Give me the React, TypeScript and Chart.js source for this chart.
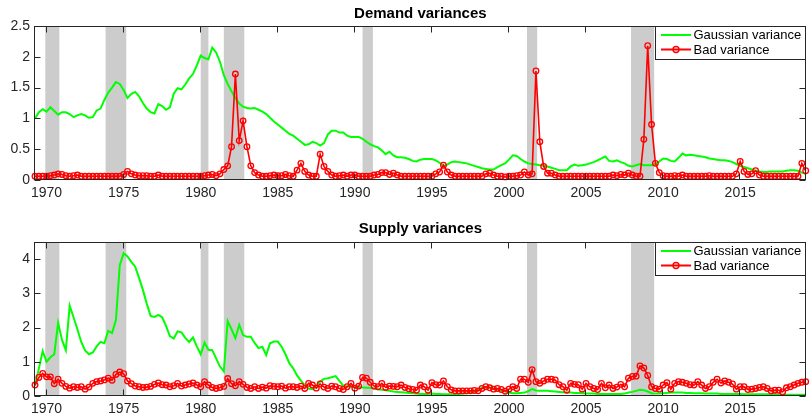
import React, { useEffect, useRef } from "react";
import { Chart, registerables } from "chart.js";

Chart.register(...registerables);

// Quarterly observations, first one is 1969Q2 (1969.25), last one 2019Q2 (2019.25)
const startYear = 1969.25;
const endYear = 2019.25;

const demandGaussian = [
  1.00, 1.10, 1.15, 1.11, 1.18, 1.12, 1.06, 1.10, 1.10, 1.07,
  1.02, 1.05, 1.07, 1.05, 1.01, 1.02, 1.13, 1.16, 1.30, 1.42,
  1.50, 1.59, 1.56, 1.46, 1.33, 1.40, 1.43, 1.36, 1.25, 1.16,
  1.10, 1.08, 1.23, 1.20, 1.14, 1.18, 1.40, 1.49, 1.47, 1.55,
  1.65, 1.72, 1.86, 2.02, 1.98, 1.96, 2.15, 2.07, 1.92, 1.70,
  1.56, 1.44, 1.33, 1.24, 1.19, 1.17, 1.16, 1.17, 1.14, 1.11,
  1.07, 1.01, 0.95, 0.90, 0.85, 0.80, 0.75, 0.72, 0.67, 0.62,
  0.57, 0.58, 0.62, 0.60, 0.56, 0.60, 0.74, 0.80, 0.80, 0.77,
  0.77, 0.72, 0.70, 0.70, 0.70, 0.67, 0.62, 0.58, 0.55, 0.53,
  0.48, 0.42, 0.46, 0.40, 0.37, 0.37, 0.36, 0.34, 0.31, 0.30,
  0.33, 0.34, 0.34, 0.34, 0.32, 0.28, 0.23, 0.25, 0.29, 0.30,
  0.29, 0.28, 0.27, 0.25, 0.23, 0.21, 0.19, 0.18, 0.17, 0.17,
  0.21, 0.24, 0.27, 0.33, 0.40, 0.39, 0.34, 0.30, 0.27, 0.26,
  0.25, 0.24, 0.23, 0.22, 0.20, 0.18, 0.16, 0.16, 0.16, 0.22,
  0.25, 0.23, 0.24, 0.25, 0.27, 0.29, 0.32, 0.35, 0.38, 0.31,
  0.30, 0.32, 0.29, 0.27, 0.23, 0.22, 0.24, 0.26, 0.24, 0.24,
  0.24, 0.26, 0.30, 0.35, 0.34, 0.31, 0.30, 0.36, 0.43, 0.40,
  0.41, 0.40, 0.39, 0.38, 0.37, 0.35, 0.34, 0.33, 0.32, 0.32,
  0.31, 0.29, 0.26, 0.23, 0.21, 0.19, 0.17, 0.15, 0.14, 0.13,
  0.13, 0.14, 0.14, 0.14, 0.14, 0.15, 0.16, 0.16, 0.15, 0.12,
  0.10,
];

const demandBad = [
  0.06, 0.06, 0.06, 0.06, 0.07, 0.08, 0.10, 0.09, 0.07, 0.06,
  0.07, 0.08, 0.06, 0.06, 0.06, 0.06, 0.06, 0.06, 0.06, 0.06,
  0.06, 0.06, 0.06, 0.09, 0.14, 0.10, 0.08, 0.07, 0.07, 0.07,
  0.06, 0.06, 0.08, 0.06, 0.06, 0.06, 0.06, 0.06, 0.06, 0.06,
  0.06, 0.06, 0.06, 0.06, 0.07, 0.08, 0.09, 0.07, 0.10, 0.17,
  0.23, 0.54, 1.72, 0.64, 0.96, 0.54, 0.23, 0.12, 0.08, 0.06,
  0.06, 0.07, 0.08, 0.07, 0.07, 0.09, 0.07, 0.06, 0.16, 0.27,
  0.14, 0.08, 0.06, 0.06, 0.42, 0.22, 0.14, 0.08, 0.06, 0.07,
  0.08, 0.06, 0.08, 0.08, 0.06, 0.06, 0.06, 0.06, 0.08, 0.09,
  0.12, 0.12, 0.09, 0.11, 0.08, 0.06, 0.06, 0.06, 0.06, 0.06,
  0.06, 0.06, 0.06, 0.06, 0.10, 0.13, 0.24, 0.13, 0.08, 0.06,
  0.06, 0.06, 0.06, 0.06, 0.06, 0.06, 0.06, 0.10, 0.11, 0.08,
  0.06, 0.06, 0.05, 0.06, 0.06, 0.07, 0.08, 0.13, 0.08, 0.10,
  1.77, 0.62, 0.22, 0.11, 0.11, 0.08, 0.06, 0.06, 0.06, 0.06,
  0.06, 0.06, 0.06, 0.06, 0.06, 0.06, 0.06, 0.06, 0.06, 0.06,
  0.08, 0.07, 0.09, 0.08, 0.11, 0.08, 0.06, 0.06, 0.66, 2.18,
  0.90, 0.27, 0.12, 0.07, 0.06, 0.06, 0.07, 0.06, 0.08, 0.06,
  0.06, 0.06, 0.06, 0.06, 0.06, 0.07, 0.06, 0.06, 0.06, 0.06,
  0.06, 0.06, 0.10, 0.30, 0.14, 0.09, 0.10, 0.15, 0.08, 0.06,
  0.06, 0.06, 0.06, 0.06, 0.06, 0.06, 0.06, 0.06, 0.06, 0.27,
  0.15,
];

const supplyGaussian = [
  0.30, 0.80, 1.31, 1.00, 1.13, 1.22, 2.14, 1.64, 1.34, 2.64,
  2.30, 1.95, 1.58, 1.33, 1.22, 1.27, 1.45, 1.58, 1.54, 1.90,
  1.84, 2.22, 3.82, 4.17, 4.08, 3.92, 3.78, 3.45, 3.10, 2.70,
  2.34, 2.31, 2.37, 2.30, 2.05, 1.75, 1.68, 1.89, 1.86, 1.70,
  1.58, 1.71, 1.45, 1.22, 1.56, 1.35, 1.34, 1.10, 0.86, 0.72,
  2.19, 1.95, 1.69, 2.08, 1.78, 1.73, 1.73, 1.55, 1.40, 1.44,
  1.20, 1.54, 1.59, 1.59, 1.44, 1.22, 0.96, 0.81, 0.60, 0.45,
  0.32, 0.22, 0.20, 0.30, 0.42, 0.50, 0.52, 0.55, 0.58, 0.44,
  0.30, 0.28, 0.27, 0.25, 0.26, 0.25, 0.24, 0.24, 0.22, 0.20,
  0.18, 0.17, 0.15, 0.13, 0.12, 0.11, 0.10, 0.09, 0.08, 0.07,
  0.06, 0.06, 0.06, 0.07, 0.06, 0.06, 0.05, 0.05, 0.05, 0.06,
  0.06, 0.07, 0.08, 0.10, 0.12, 0.18, 0.24, 0.27, 0.25, 0.22,
  0.20, 0.16, 0.13, 0.10, 0.08, 0.08, 0.09, 0.10, 0.14, 0.20,
  0.16, 0.15, 0.15, 0.15, 0.14, 0.13, 0.12, 0.11, 0.10, 0.10,
  0.09, 0.09, 0.08, 0.07, 0.07, 0.07, 0.06, 0.06, 0.06, 0.06,
  0.06, 0.06, 0.06, 0.07, 0.10, 0.12, 0.15, 0.18, 0.17, 0.13,
  0.08, 0.07, 0.07, 0.08, 0.09, 0.10, 0.10, 0.10, 0.10, 0.09,
  0.09, 0.08, 0.08, 0.08, 0.07, 0.07, 0.07, 0.07, 0.06, 0.06,
  0.06, 0.06, 0.06, 0.06, 0.05, 0.05, 0.05, 0.05, 0.05, 0.05,
  0.05, 0.05, 0.05, 0.04, 0.04, 0.04, 0.04, 0.04, 0.04, 0.04,
  0.04,
];

const supplyBad = [
  0.32, 0.54, 0.66, 0.56, 0.56, 0.36, 0.49, 0.37, 0.28, 0.23,
  0.27, 0.25, 0.27, 0.20, 0.26, 0.37, 0.42, 0.44, 0.47, 0.52,
  0.46, 0.63, 0.70, 0.65, 0.44, 0.36, 0.29, 0.27, 0.25, 0.26,
  0.28, 0.34, 0.38, 0.33, 0.32, 0.27, 0.30, 0.37, 0.29, 0.32,
  0.35, 0.38, 0.32, 0.27, 0.42, 0.32, 0.25, 0.22, 0.25, 0.28,
  0.51, 0.36, 0.30, 0.42, 0.34, 0.25, 0.22, 0.27, 0.22, 0.26,
  0.23, 0.30, 0.28, 0.27, 0.29, 0.23, 0.27, 0.27, 0.25, 0.29,
  0.22, 0.37, 0.32, 0.23, 0.35, 0.26, 0.22, 0.29, 0.27, 0.22,
  0.19, 0.27, 0.37, 0.23, 0.29, 0.54, 0.52, 0.40, 0.29, 0.27,
  0.37, 0.25, 0.29, 0.28, 0.27, 0.32, 0.25, 0.21, 0.19, 0.17,
  0.32, 0.27, 0.17, 0.39, 0.33, 0.32, 0.44, 0.27, 0.18, 0.15,
  0.15, 0.15, 0.15, 0.15, 0.16, 0.15, 0.22, 0.27, 0.24, 0.20,
  0.22, 0.19, 0.14, 0.20, 0.27, 0.22, 0.49, 0.49, 0.40, 0.77,
  0.42, 0.37, 0.44, 0.49, 0.49, 0.47, 0.33, 0.27, 0.17, 0.37,
  0.34, 0.33, 0.20, 0.37, 0.27, 0.22, 0.19, 0.37, 0.24, 0.32,
  0.22, 0.26, 0.34, 0.27, 0.52, 0.57, 0.58, 0.88, 0.82, 0.60,
  0.27, 0.22, 0.20, 0.32, 0.39, 0.20, 0.37, 0.42, 0.40, 0.37,
  0.33, 0.32, 0.42, 0.32, 0.22, 0.27, 0.40, 0.49, 0.38, 0.44,
  0.40, 0.35, 0.20, 0.27, 0.27, 0.19, 0.20, 0.22, 0.25, 0.27,
  0.22, 0.15, 0.17, 0.17, 0.12, 0.24, 0.27, 0.32, 0.37, 0.40,
  0.42,
];

// NBER recession periods (fractional years)
const recessionStarts = [1969.92, 1973.83, 1980.0, 1981.5, 1990.5, 2001.17, 2007.92];
const recessionEnds = [1970.83, 1975.17, 1980.5, 1982.83, 1991.17, 2001.83, 2009.42];

const xTickValues = [1970, 1975, 1980, 1985, 1990, 1995, 2000, 2005, 2010, 2015];
const demandYTicks = [0, 0.5, 1, 1.5, 2, 2.5];
const supplyYTicks = [0, 1, 2, 3, 4];
const seriesNames = ["Gaussian variance", "Bad variance"];
const panelTitles = ["Demand variances", "Supply variances"];

const FONT = "'Liberation Sans', Arial, Helvetica, sans-serif";
const GREEN = "#00ff00";
const RED = "#ff0000";
const AXIS = "#262626";
const SHADE = "#cccccc";

const quarterYears = demandGaussian.map((_, i) => startYear + i * 0.25);

function panelPlugin(title: string, titleY: number, yTicks: number[]) {
  return {
    id: "panelDecor",
    beforeDatasetsDraw(chart: any) {
      const { ctx, chartArea: a, scales } = chart;
      const x = scales.x;
      ctx.save();
      ctx.fillStyle = SHADE;
      for (let k = 0; k < recessionStarts.length; k++) {
        const x0 = x.getPixelForValue(recessionStarts[k]);
        const x1 = x.getPixelForValue(recessionEnds[k]);
        ctx.fillRect(x0, a.top, x1 - x0, a.bottom - a.top);
      }
      ctx.restore();
    },
    afterDatasetsDraw(chart: any) {
      const { ctx, chartArea: a, scales } = chart;
      const x = scales.x;
      const y = scales.y;
      ctx.save();
      // frame
      ctx.strokeStyle = AXIS;
      ctx.lineWidth = 1;
      const L = Math.round(a.left) - 0.5;
      const R = Math.round(a.right) - 0.5;
      const T = Math.round(a.top) + 0.5;
      const B = Math.round(a.bottom) - 0.5;
      ctx.strokeRect(L, T, R - L, B - T);
      // ticks (inside)
      const tl = 6;
      ctx.beginPath();
      for (const v of xTickValues) {
        const px = Math.round(x.getPixelForValue(v)) - 0.5;
        ctx.moveTo(px, B);
        ctx.lineTo(px, B - tl);
        ctx.moveTo(px, T);
        ctx.lineTo(px, T + tl);
      }
      for (const v of yTicks) {
        const py = Math.round(y.getPixelForValue(v)) + 0.5;
        ctx.moveTo(L, py);
        ctx.lineTo(L + tl, py);
        ctx.moveTo(R, py);
        ctx.lineTo(R - tl, py);
      }
      ctx.stroke();

      // legend
      const lw = 150;
      const lh = 33;
      const lx = Math.round(a.right) - 1 - lw;
      const ly = Math.round(a.top);
      ctx.fillStyle = "#ffffff";
      ctx.fillRect(lx, ly, lw, lh);
      ctx.strokeStyle = AXIS;
      ctx.lineWidth = 1;
      ctx.strokeRect(lx + 0.5, ly + 0.5, lw, lh);
      const r1 = ly + 9;
      const r2 = ly + 23.5;
      ctx.lineWidth = 2;
      ctx.strokeStyle = GREEN;
      ctx.beginPath();
      ctx.moveTo(lx + 6, r1);
      ctx.lineTo(lx + 36, r1);
      ctx.stroke();
      ctx.strokeStyle = RED;
      ctx.beginPath();
      ctx.moveTo(lx + 6, r2);
      ctx.lineTo(lx + 36, r2);
      ctx.stroke();
      ctx.lineWidth = 1.4;
      ctx.beginPath();
      ctx.arc(lx + 21, r2, 3, 0, Math.PI * 2);
      ctx.stroke();
      ctx.fillStyle = "#000000";
      ctx.font = `13px ${FONT}`;
      ctx.textAlign = "left";
      ctx.textBaseline = "middle";
      ctx.fillText(seriesNames[0], lx + 38.5, r1 + 0.5);
      ctx.fillText(seriesNames[1], lx + 38.5, r2 + 0.5);

      // title
      ctx.font = `bold 15px ${FONT}`;
      ctx.textAlign = "center";
      ctx.fillText(title, (a.left + a.right) / 2, titleY);
      ctx.restore();
    },
  };
}

function makeConfig(
  gauss: number[],
  bad: number[],
  yMax: number,
  yTicks: number[],
  padTop: number,
  xAxisH: number,
  title: string,
  titleY: number
): any {
  return {
    type: "line",
    data: {
      datasets: [
        {
          label: seriesNames[1],
          data: quarterYears.map((q, i) => ({ x: q, y: bad[i] })),
          borderColor: RED,
          borderWidth: 1.6,
          pointRadius: 2.8,
          pointBorderWidth: 1.3,
          pointBorderColor: RED,
          pointBackgroundColor: "rgba(255,255,255,0)",
          tension: 0,
          clip: false,
        },
        {
          label: seriesNames[0],
          data: quarterYears.map((q, i) => ({ x: q, y: gauss[i] })),
          borderColor: GREEN,
          borderWidth: 2,
          pointRadius: 0,
          tension: 0,
          clip: false,
        },
      ],
    },
    options: {
      animation: false,
      responsive: false,
      maintainAspectRatio: false,
      events: [],
      layout: { padding: { top: padTop, right: 1, left: 0, bottom: 0 } },
      plugins: {
        legend: { display: false },
        tooltip: { enabled: false },
        title: { display: false },
      },
      scales: {
        x: {
          type: "linear",
          min: startYear,
          max: endYear,
          grid: { display: false, drawTicks: false },
          border: { display: false },
          afterBuildTicks: (s: any) => {
            s.ticks = xTickValues.map((v) => ({ value: v }));
          },
          afterFit: (s: any) => {
            s.height = xAxisH;
          },
          ticks: {
            autoSkip: false,
            maxRotation: 0,
            padding: 5,
            color: AXIS,
            font: { family: FONT, size: 14 },
            callback: (v: any) => String(v),
          },
        },
        y: {
          type: "linear",
          min: 0,
          max: yMax,
          grid: { display: false, drawTicks: false },
          border: { display: false },
          afterBuildTicks: (s: any) => {
            s.ticks = yTicks.map((v) => ({ value: v }));
          },
          afterFit: (s: any) => {
            s.width = 35;
          },
          ticks: {
            padding: 5,
            color: AXIS,
            font: { family: FONT, size: 14 },
            callback: (v: any) => String(v),
          },
        },
      },
    },
    plugins: [panelPlugin(title, titleY, yTicks)],
  };
}

export default function App() {
  const topRef = useRef<HTMLCanvasElement | null>(null);
  const botRef = useRef<HTMLCanvasElement | null>(null);

  useEffect(() => {
    const c1 = new Chart(
      topRef.current as HTMLCanvasElement,
      makeConfig(demandGaussian, demandBad, 2.5, demandYTicks, 26, 27, panelTitles[0], 14)
    );
    const c2 = new Chart(
      botRef.current as HTMLCanvasElement,
      makeConfig(supplyGaussian, supplyBad, 4.5, supplyYTicks, 35, 19, panelTitles[1], 22)
    );
    return () => {
      c1.destroy();
      c2.destroy();
    };
  }, []);

  return (
    <div style={{ position: "absolute", left: 0, top: 0, width: 811, height: 415, background: "#ffffff" }}>
      <canvas ref={topRef} width={811} height={207} style={{ position: "absolute", left: 0, top: 0, width: 811, height: 207 }} />
      <canvas ref={botRef} width={811} height={208} style={{ position: "absolute", left: 0, top: 207, width: 811, height: 208 }} />
    </div>
  );
}
